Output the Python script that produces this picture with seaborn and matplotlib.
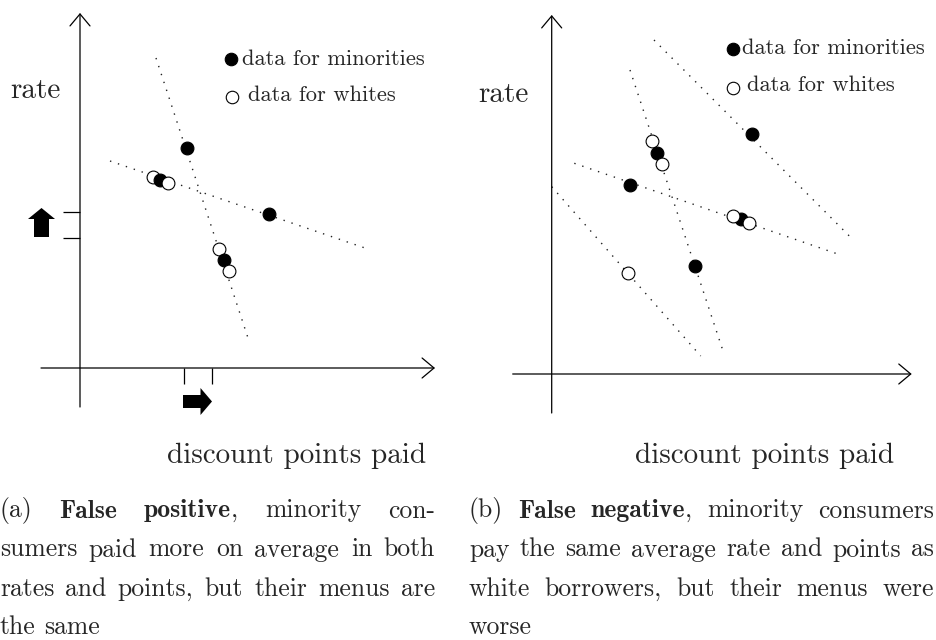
import pandas as pd
import seaborn as sns
import matplotlib.pyplot as plt

sns.set_theme(style="white")
plt.rcParams['font.family'] = ['cmr10']
plt.rcParams['axes.formatter.use_mathtext'] = True

W, H = 937, 640

# === Panel (a): values in panel units (origin = axis crossing) ===
a_min_x = [107, 80, 189, 144]
a_min_y = [220, 188, 154, 108]
a_wht_x = [73, 88, 139, 149]
a_wht_y = [191, 185, 119, 97]
a_wht_layer = [0, 2, 0, 2]          # 0 = under the filled dots, 2 = over
a_lines_x = [(76, 168), (30, 285)]
a_lines_y = [(310, 30), (207, 120)]
a_rate_ticks = [156, 130]
a_point_ticks = [104, 132]

# === Panel (b) ===
b_min_x = [200, 105.6, 78.6, 189, 143.3]
b_min_y = [239.7, 220.7, 189, 155, 108.3]
b_wht_x = [100, 110.6, 181.6, 197, 76.3]
b_wht_y = [232.7, 210, 158.3, 151.3, 101.3]
b_wht_layer = [0, 2, 2, 2, 2]
b_lines_x = [(102.3, 298.3), (78.3, 171), (22.6, 284), (0, 149)]
b_lines_y = [(334, 137.3), (304, 24), (210.7, 120.7), (187.3, 18)]

legend_labels = ["data for minorities", "data for whites"]
x_label = "discount points paid"
y_label = "rate"

caption_a = ["(a) *False* *positive*, minority con-",
             "sumers paid more on average in both",
             "rates and points, but their menus are",
             "the same"]
caption_b = ["(b) *False* *negative*, minority consumers",
             "pay the same average rate and points as",
             "white borrowers, but their menus were",
             "worse"]

fig = plt.figure(figsize=(W / 100, H / 100), dpi=100)


def px(x, y):
    return x / W, 1 - y / H


def draw_panel(ax, ox, oy, mx, my, wx, wy, wlayer, lx, ly, xtop, ytop):
    ax.set_xlim(-ox, -ox + ax.get_position().width * W)
    ax.set_ylim(oy - H, oy)
    ax.axis('off')

    # axes with open arrow heads
    arrow = dict(arrowstyle='->,head_length=0.86,head_width=0.72', mutation_scale=10,
                 lw=0.9, color='black', shrinkA=0, shrinkB=0)
    ax.annotate('', xy=(0, ytop), xytext=(0, -39), arrowprops=arrow)
    ax.annotate('', xy=(xtop, 0), xytext=(-39, 0), arrowprops=arrow)

    # dotted menu lines
    for xs, ys in zip(lx, ly):
        sns.lineplot(x=list(xs), y=list(ys), ax=ax, color='#222222', lw=1.0,
                     linestyle=(0, (1, 5)), estimator=None, sort=False)

    df_m = pd.DataFrame({'x': mx, 'y': my})
    df_w = pd.DataFrame({'x': wx, 'y': wy, 'layer': wlayer})
    sns.scatterplot(data=df_w[df_w.layer == 0], x='x', y='y', ax=ax, s=85,
                    color='white', edgecolor='black', linewidth=0.8, zorder=3)
    sns.scatterplot(data=df_m, x='x', y='y', ax=ax, s=85,
                    color='black', edgecolor='black', linewidth=0.8, zorder=4)
    sns.scatterplot(data=df_w[df_w.layer == 2], x='x', y='y', ax=ax, s=85,
                    color='white', edgecolor='black', linewidth=0.8, zorder=5)


def legend(x_dot, y_dots, x_text, y_text):
    for i, lab in enumerate(legend_labels):
        fc = 'black' if i == 0 else 'white'
        fig.add_artist(plt.Line2D([px(x_dot[i], 0)[0]], [px(0, y_dots[i])[1]], marker='o',
                                  markersize=9, markerfacecolor=fc, markeredgecolor='black',
                                  markeredgewidth=0.8, linestyle='none'))
        fig.text(*px(x_text[i], y_text[i]), lab, fontsize=16.2, va='baseline', ha='left')


def caption(lines, x0, x1, y0, step, size=18.5):
    r = fig.canvas.get_renderer()
    for i, line in enumerate(lines):
        y = px(0, y0 + i * step)[1]
        words = []
        for word in line.split(' '):
            segs = []
            for j, part in enumerate(word.split('*')):
                if part:
                    t = fig.text(0, y, part, fontsize=size, va='baseline',
                                 family='cmb10' if j % 2 else 'cmr10')
                    segs.append((t, t.get_window_extent(r).width))
            words.append(segs)
        widths = [sum(w for _, w in s) for s in words]
        if i == len(lines) - 1 or len(words) == 1:
            gap = 0.333 * size * 100 / 72
        else:
            gap = (x1 - x0 - sum(widths)) / (len(words) - 1)
        x = x0
        for segs in words:
            for t, w in segs:
                t.set_x(x / W)
                x += w
            x += gap


ax_a = fig.add_axes([0, 0, 468 / W, 1])
draw_panel(ax_a, 80, 368, a_min_x, a_min_y, a_wht_x, a_wht_y, a_wht_layer,
           a_lines_x, a_lines_y, 355, 355)
# average shift marks
ax_a.hlines(a_rate_ticks, -17, 0, color='black', lw=0.9)
ax_a.vlines(a_point_ticks, -16, 0, color='black', lw=0.9)
ax_a.arrow(-38.5, 131, 0, 29, width=15, head_width=27, head_length=11,
           length_includes_head=True, fc='black', ec='black', lw=0)
ax_a.arrow(103, -33.5, 29, 0, width=13, head_width=27, head_length=11.5,
           length_includes_head=True, fc='black', ec='black', lw=0)

ax_b = fig.add_axes([468 / W, 0, 469 / W, 1])
draw_panel(ax_b, 83.7, 374, b_min_x, b_min_y, b_wht_x, b_wht_y, b_wht_layer,
           b_lines_x, b_lines_y, 360, 359)

fig.text(*px(10, 97.7), y_label, fontsize=21, va='baseline')
fig.text(*px(478, 102), y_label, fontsize=21, va='baseline')
fig.text(*px(167, 463), x_label, fontsize=21, va='baseline')
fig.text(*px(635, 463), x_label, fontsize=21, va='baseline')

legend([231, 232], [59, 97], [242, 248], [65, 100.7])
legend([732.7, 733.3], [49.3, 88.3], [741.7, 747.3], [54.3, 90.7])

caption(caption_a, 0, 435, 517.5, 39)
caption(caption_b, 469, 934, 517.5, 39)

fig.savefig("out.png", dpi=100)
